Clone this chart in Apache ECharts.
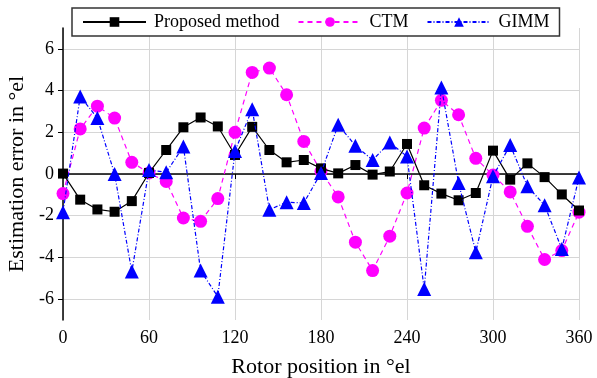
<!DOCTYPE html>
<html><head><meta charset="utf-8">
<script src="https://cdn.jsdelivr.net/npm/echarts@6/dist/echarts.min.js"></script>
<style>html,body{margin:0;padding:0;background:#fff}#c{width:597px;height:378px}</style>
</head><body><div id="c"></div>
<script>
const positions = [0,12,24,36,48,60,72,84,96,108,120,132,144,156,168,180,192,204,216,228,240,252,264,276,288,300,312,324,336,348,360];
const proposed = [0.02,-1.23,-1.7,-1.81,-1.3,0.05,1.15,2.24,2.71,2.28,0.91,2.26,1.15,0.56,0.67,0.27,0.03,0.43,-0.03,0.12,1.44,-0.54,-0.94,-1.26,-0.91,1.12,-0.27,0.51,-0.15,-0.98,-1.75];
const ctm = [-0.94,2.16,3.25,2.68,0.56,0.05,-0.36,-2.11,-2.27,-1.18,2.0,4.87,5.08,3.8,1.56,0.13,-1.1,-3.27,-4.63,-2.98,-0.91,2.2,3.53,2.84,0.75,-0.05,-0.86,-2.51,-4.1,-3.67,-1.83];
const gimm = [-1.83,3.72,2.68,0.0,-4.68,0.19,0.08,1.32,-4.63,-5.88,1.1,3.11,-1.71,-1.35,-1.39,0.05,2.36,1.36,0.67,1.51,0.84,-5.51,4.15,-0.43,-3.75,-0.11,1.39,-0.59,-1.5,-3.59,-0.17];
const yTicks = [-6,-4,-2,0,2,4,6];
const seriesNames = ['Proposed method','CTM','GIMM'];

const font = 'Liberation Serif';
const pair = arr => positions.map((x,i)=>[x,arr[i]]);
const chart = echarts.init(document.getElementById('c'));
chart.setOption({
  animation:false,
  textStyle:{fontFamily:font},
  grid:{left:63,right:18,top:28,bottom:58,containLabel:false,outerBoundsMode:'none'},
  legend:{
    left:72, top:8, itemWidth:63, itemHeight:12, itemGap:18,
    padding:[5,10,5,10],
    backgroundColor:'#fff', borderColor:'#333', borderWidth:1.5, borderRadius:0,
    textStyle:{fontFamily:font,fontSize:18,color:'#000',padding:[0,0,0,3]},
    data:seriesNames, z:10
  },
  xAxis:{
    type:'value', min:0, max:360, interval:60,
    name:'Rotor position in °el', nameLocation:'middle', nameGap:36,
    nameTextStyle:{fontFamily:font,fontSize:22,color:'#000'},
    axisLine:{lineStyle:{color:'#000',width:1.5}},
    axisTick:{show:true,length:5,lineStyle:{color:'#000'}},
    axisLabel:{fontFamily:font,fontSize:18,color:'#000',margin:9},
    splitLine:{show:true,lineStyle:{color:'#d6d6d6',width:1}}
  },
  yAxis:{
    type:'value', min:-7, max:7,
    name:'Estimation error in °el', nameLocation:'middle', nameGap:33,
    nameTextStyle:{fontFamily:font,fontSize:22,color:'#000'},
    axisLine:{show:true,lineStyle:{color:'#000',width:1.5}},
    axisTick:{show:true,length:5,lineStyle:{color:'#000'},customValues:yTicks},
    axisLabel:{fontFamily:font,fontSize:18,color:'#000',margin:9,customValues:yTicks,
      formatter:v=>String(v).replace('−','-')},
    splitLine:{show:true,lineStyle:{color:'#d6d6d6',width:1}}
  },
  series:[
    {name:seriesNames[0],type:'line',data:pair(proposed),symbol:'rect',symbolSize:10,
     itemStyle:{color:'#000'},lineStyle:{color:'#000',width:1.2},z:3},
    {name:seriesNames[1],type:'line',data:pair(ctm),symbol:'circle',symbolSize:13,
     itemStyle:{color:'#ff00ff'},lineStyle:{color:'#ff00ff',width:1.2,type:[5,4]},z:2},
    {name:seriesNames[2],type:'line',data:pair(gimm),symbol:'triangle',symbolSize:14,
     itemStyle:{color:'#0000ff'},lineStyle:{color:'#0000ff',width:1.2,type:[4,2,1,2]},z:4}
  ]
});
</script></body></html>
